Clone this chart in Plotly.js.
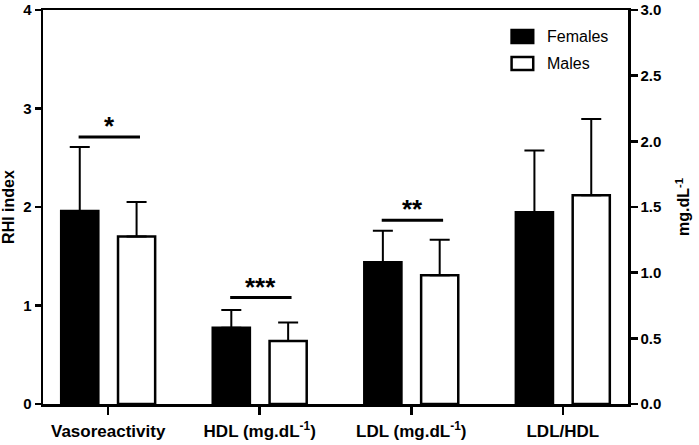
<!DOCTYPE html>
<html>
<head>
<meta charset="utf-8">
<script src="https://cdn.plot.ly/plotly-3.0.1.min.js"></script>
<style>html,body{margin:0;padding:0;background:#fff;}#chart{width:699px;height:445px;}</style>
</head>
<body>
<div id="chart"></div>
<script>
// ---- data ----
var categories = ['Vasoreactivity', 'HDL (mg.dL<sup>-1</sup>)', 'LDL (mg.dL<sup>-1</sup>)', 'LDL/HDL'];
// RHI index (left axis)
var rhiCategories = ['Vasoreactivity'];
var femalesRHI = [1.96];
var femalesRHIErr = [0.65];
var malesRHI = [1.70];
var malesRHIErr = [0.35];
// mg.dL-1 (right axis)
var mgCategories = ['HDL (mg.dL<sup>-1</sup>)', 'LDL (mg.dL<sup>-1</sup>)', 'LDL/HDL'];
var femalesMg = [0.58, 1.08, 1.46];
var femalesMgErr = [0.135, 0.24, 0.47];
var malesMg = [0.48, 0.98, 1.59];
var malesMgErr = [0.14, 0.27, 0.58];
var leftTicks = [0, 1, 2, 3, 4];
var rightTicks = [0, 0.5, 1.0, 1.5, 2.0, 2.5, 3.0];
var sigLabels = ['*', '***', '**'];
var sigLevels = [2.71, 0.81, 1.40];   // bracket heights (left axis for first, right axis for others)
var sigAxes = ['y', 'y2', 'y2'];

var FONT = 'Liberation Sans, Arial, sans-serif';
var bw = 0.245, offF = -0.31, offM = 0.065;

function barTrace(name, x, y, err, yaxis, fill) {
  return {
    type: 'bar', name: name, x: x, y: y, yaxis: yaxis,
    width: bw, offset: name === 'Females' ? offF : offM,
    marker: {color: fill, line: {color: '#000', width: 2.5}},
    error_y: {type: 'data', array: err, arrayminus: err.map(function(){return 0;}),
              symmetric: false, color: '#000', thickness: 2, width: 10},
    showlegend: false, hoverinfo: 'skip'
  };
}

var data = [
  barTrace('Females', rhiCategories, femalesRHI, femalesRHIErr, 'y', '#000'),
  barTrace('Males', rhiCategories, malesRHI, malesRHIErr, 'y', '#fff'),
  barTrace('Females', mgCategories, femalesMg, femalesMgErr, 'y2', '#000'),
  barTrace('Males', mgCategories, malesMg, malesMgErr, 'y2', '#fff')
];

var shapes = [];
var annotations = [];
sigLabels.forEach(function(lbl, i) {
  shapes.push({type: 'line', xref: 'x', yref: sigAxes[i], x0: i - 0.195, x1: i + 0.21,
               y0: sigLevels[i], y1: sigLevels[i], line: {color: '#000', width: 3}});
  annotations.push({xref: 'x', yref: sigAxes[i], x: i + 0.008, y: sigLevels[i], text: '<b>' + lbl + '</b>',
                    showarrow: false, yanchor: 'bottom', xanchor: 'center',
                    font: {family: FONT, size: 26, color: '#000'}, yshift: -6});
});
// legend
var legendItems = [{name: 'Females', fill: '#000', y0: 0.916, y1: 0.949},
                   {name: 'Males', fill: '#fff', y0: 0.848, y1: 0.881}];
legendItems.forEach(function(it) {
  shapes.push({type: 'rect', xref: 'paper', yref: 'paper', x0: 0.801, x1: 0.838, y0: it.y0, y1: it.y1,
               fillcolor: it.fill, line: {color: '#000', width: 2.5}});
  annotations.push({xref: 'paper', yref: 'paper', x: 0.858, y: (it.y0 + it.y1) / 2, text: it.name,
                    showarrow: false, xanchor: 'left', yanchor: 'middle',
                    font: {family: FONT, size: 16, color: '#000'}});
});

var layout = {
  width: 699, height: 445,
  margin: {l: 43, r: 71, t: 10, b: 41},
  paper_bgcolor: '#fff', plot_bgcolor: '#fff',
  barmode: 'overlay',
  font: {family: FONT, color: '#000'},
  xaxis: {
    type: 'category', categoryorder: 'array', categoryarray: categories,
    range: [-0.43, 3.43], showline: true, linecolor: '#000', linewidth: 2.5, mirror: true,
    ticks: 'outside', ticklen: 8, tickwidth: 2.5, tickcolor: '#000', showgrid: false,
    ticklabelstandoff: 2,
    tickfont: {family: FONT, size: 17, weight: 'bold', color: '#000'}
  },
  yaxis: {
    range: [0, 4], tickvals: leftTicks, showline: true, linecolor: '#000', linewidth: 2.5,
    ticks: 'outside', ticklen: 6, tickwidth: 2.5, tickcolor: '#000', showgrid: false, zeroline: false,
    tickfont: {family: FONT, size: 15, weight: 'bold', color: '#000'},
    title: {text: 'RHI index', font: {family: FONT, size: 16, weight: 'bold', color: '#000'}, standoff: 6}
  },
  yaxis2: {
    overlaying: 'y', side: 'right', range: [0, 3], tickvals: rightTicks, tickformat: '.1f',
    showline: true, linecolor: '#000', linewidth: 2.5,
    ticks: 'outside', ticklen: 7, tickwidth: 2.5, tickcolor: '#000', showgrid: false, zeroline: false,
    tickfont: {family: FONT, size: 15, weight: 'bold', color: '#000'},
    title: {text: 'mg.dL<sup>-1</sup>', font: {family: FONT, size: 16, weight: 'bold', color: '#000'}, standoff: 18}
  },
  shapes: shapes,
  annotations: annotations
};

Plotly.newPlot('chart', data, layout, {displayModeBar: false, staticPlot: true});
</script>
</body>
</html>
